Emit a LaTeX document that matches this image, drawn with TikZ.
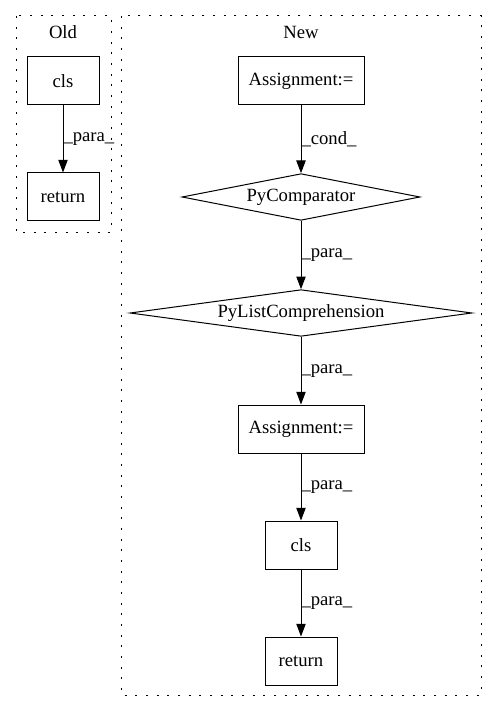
\documentclass[tikz,border=0pt]{standalone}
\usepackage{fontspec}
\setmainfont{Liberation Serif}
\usetikzlibrary{shapes.geometric, arrows.meta}
\tikzstyle{block} = [rectangle, minimum width=54pt, minimum height=36pt, inner xsep=6pt, text centered, draw=black, line width=0.75pt]
\tikzstyle{wideblock} = [block, minimum width=94.5pt]
\tikzstyle{decision} = [diamond, aspect=6, inner sep=0pt, minimum height=35pt, text centered, draw=black, line width=0.75pt]
\tikzstyle{cluster} = [draw=black, line width=0.75pt, dash pattern=on 1.5pt off 6.5pt]
\tikzstyle{arrow} = [line width=0.75pt, -{Triangle[length=9.5pt, width=7pt]}]
\tikzstyle{elabel} = [anchor=west, inner sep=0pt]

\begin{document}
\begin{tikzpicture}[x=0.75pt, y=-0.75pt, node distance=87pt, font=\fontsize{14pt}{16pt}\selectfont]
    \useasboundingbox (0,0) rectangle (497,712);
    % clusters
    \draw [cluster] (16,16) rectangle (111,233);
    \draw [cluster] (121,16) rectangle (481,695);
    \node (oldtitle) at (63,32) {Old};
    \node (newtitle) at (301,32) {New};
    % old version
    \node (oldcls) [block] at (63,81) {cls};
    \node (oldret) [block, below of=oldcls] {return};
    % new version
    \node (assign1) [wideblock] at (301,81) {Assignment:=};
    \node (cmp) [decision, below of=assign1, minimum width=178.5pt] {PyComparator};
    \node (listcomp) [decision, below of=cmp, minimum width=256.5pt] {PyListComprehension};
    \node (assign2) [wideblock, below of=listcomp] {Assignment:=};
    \node (newcls) [block, below of=assign2] {cls};
    \node (newret) [block, below of=newcls] {return};
    % edges
    \draw [arrow] (oldcls) -- node[elabel] {\_para\_} (oldret);
    \draw [arrow] (assign1) -- node[elabel] {\_cond\_} (cmp);
    \draw [arrow] (cmp) -- node[elabel] {\_para\_} (listcomp);
    \draw [arrow] (listcomp) -- node[elabel] {\_para\_} (assign2);
    \draw [arrow] (assign2) -- node[elabel] {\_para\_} (newcls);
    \draw [arrow] (newcls) -- node[elabel] {\_para\_} (newret);
\end{tikzpicture}
\end{document}
